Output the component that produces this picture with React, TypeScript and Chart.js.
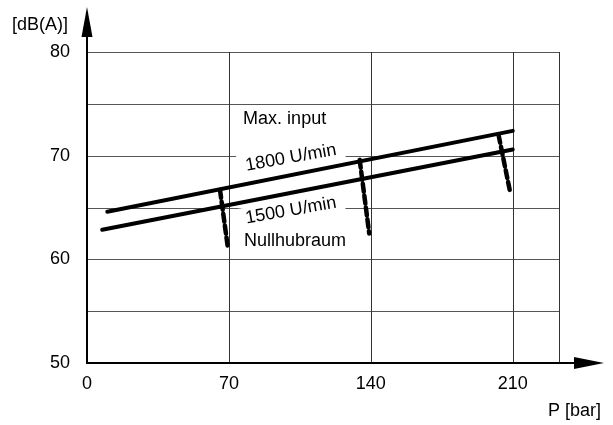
import React, { useEffect, useRef } from 'react';
import { Chart, registerables } from 'chart.js';

Chart.register(...registerables);

const FONT = '"Liberation Sans", Arial, sans-serif';
const FS = 18;

// Axis ticks and grid
const xTicks = [0, 70, 140, 210];
const yTicks = [50, 60, 70, 80];
const xGridLines = [70, 140, 210, 233];
const yGridLines = [55, 60, 65, 70, 75, 80];

// Main curves
const line1800X = [10, 210];
const line1800Y = [64.6, 72.4];
const line1500X = [7.5, 210];
const line1500Y = [62.85, 70.6];

// Dashed drops (to Nullhubraum)
const drop70X = [65.6, 69.5];
const drop70Y = [66.7, 61.1];
const drop140X = [134.5, 139.2];
const drop140Y = [69.6, 62.5];
const drop210X = [203, 208.8];
const drop210Y = [72.0, 66.4];

// Annotations
const noteTexts = ['Max. input', '1800 U/min', '1500 U/min', 'Nullhubraum'];
const noteX = [77, 100.6, 100.6, 77.4];
const noteY = [73.09, 69.8, 64.7, 61.31];

const yAxisTitle = '[dB(A)]';
const xAxisTitle = 'P [bar]';

const pts = (xs: number[], ys: number[]) => xs.map((x, i) => ({ x, y: ys[i] }));

export default function App() {
  const ref = useRef<HTMLCanvasElement | null>(null);

  useEffect(() => {
    if (!ref.current) return;
    const solid = (xs: number[], ys: number[]) => ({
      data: pts(xs, ys),
      showLine: true,
      borderColor: '#000',
      borderWidth: 4,
      pointRadius: 0,
      borderCapStyle: 'round' as const,
    });
    const dashed = (xs: number[], ys: number[]) => ({
      data: pts(xs, ys),
      showLine: true,
      borderColor: '#000',
      borderWidth: 4.5,
      pointRadius: 0,
      borderDash: [8, 4],
      borderCapStyle: 'round' as const,
    });

    const plugin = {
      id: 'decor',
      beforeDatasetsDraw(chart: any) {
        const ctx = chart.ctx;
        const xs = chart.scales.x;
        const ys = chart.scales.y;
        ctx.save();
        ctx.lineWidth = 1;
        ctx.strokeStyle = '#555';
        const xRight = xs.getPixelForValue(233);
        const yTop = ys.getPixelForValue(80);
        const yBot = ys.getPixelForValue(50);
        const xLeft = xs.getPixelForValue(0);
        yGridLines.forEach((v) => {
          const y = Math.round(ys.getPixelForValue(v)) + 0.5;
          ctx.beginPath();
          ctx.moveTo(xLeft, y);
          ctx.lineTo(xRight, y);
          ctx.stroke();
        });
        ctx.strokeStyle = '#333';
        xGridLines.forEach((v) => {
          const x = Math.round(xs.getPixelForValue(v)) + 0.5;
          ctx.beginPath();
          ctx.moveTo(x, yTop);
          ctx.lineTo(x, yBot);
          ctx.stroke();
        });
        ctx.font = FS + 'px ' + FONT;
        ctx.fillStyle = '#000';
        noteTexts.forEach((t, i) => {
          const px = xs.getPixelForValue(noteX[i]);
          const py = ys.getPixelForValue(noteY[i]);
          if (i === 1 || i === 2) {
            ctx.save();
            ctx.translate(px, py);
            ctx.rotate((-10 * Math.PI) / 180);
            const w = ctx.measureText(t).width;
            ctx.fillStyle = '#fff';
            ctx.fillRect(-w / 2 - 8, -11, w + 16, 22);
            ctx.fillStyle = '#000';
            ctx.textAlign = 'center';
            ctx.textBaseline = 'middle';
            ctx.fillText(t, 0, 0);
            ctx.restore();
          } else {
            ctx.textAlign = 'left';
            ctx.textBaseline = 'alphabetic';
            ctx.fillText(t, px, py);
          }
        });
        ctx.restore();
      },
      afterDraw(chart: any) {
        const ctx = chart.ctx;
        const xs = chart.scales.x;
        const ys = chart.scales.y;
        const x0 = xs.getPixelForValue(0);
        const y0 = ys.getPixelForValue(50);
        const yTip = chart.chartArea.top;
        const xTip = chart.chartArea.right;
        ctx.save();
        ctx.strokeStyle = '#000';
        ctx.fillStyle = '#000';
        ctx.lineWidth = 2;
        ctx.beginPath();
        ctx.moveTo(x0, y0);
        ctx.lineTo(x0, yTip + 25);
        ctx.moveTo(x0 - 1, y0);
        ctx.lineTo(xTip - 25, y0);
        ctx.stroke();
        ctx.beginPath();
        ctx.moveTo(x0, yTip);
        ctx.lineTo(x0 - 5.5, yTip + 30);
        ctx.lineTo(x0 + 5.5, yTip + 30);
        ctx.closePath();
        ctx.fill();
        ctx.beginPath();
        ctx.moveTo(xTip, y0);
        ctx.lineTo(xTip - 30, y0 - 6);
        ctx.lineTo(xTip - 30, y0 + 6);
        ctx.closePath();
        ctx.fill();
        ctx.font = FS + 'px ' + FONT;
        ctx.textBaseline = 'middle';
        ctx.textAlign = 'left';
        ctx.fillText(yAxisTitle, 12, 25);
        ctx.textAlign = 'right';
        ctx.fillText(xAxisTitle, 601, 411);
        ctx.restore();
      },
    };

    const chart = new Chart(ref.current, {
      type: 'scatter',
      data: {
        datasets: [
          solid(line1800X, line1800Y),
          solid(line1500X, line1500Y),
          dashed(drop70X, drop70Y),
          dashed(drop140X, drop140Y),
          dashed(drop210X, drop210Y),
        ],
      },
      options: {
        animation: false,
        responsive: false,
        devicePixelRatio: 1,
        layout: { padding: { top: 7, right: 9, left: 0, bottom: 0 } },
        plugins: { legend: { display: false }, tooltip: { enabled: false } },
        scales: {
          x: {
            type: 'linear',
            min: 0,
            max: 255,
            grid: { display: false, drawTicks: false },
            border: { display: false },
            afterBuildTicks: (s: any) => {
              s.ticks = xTicks.map((v) => ({ value: v }));
            },
            afterFit: (s: any) => {
              s.height = 62;
              s.paddingLeft = 0;
              s.paddingRight = 0;
              s.paddingTop = 0;
              s.paddingBottom = 0;
            },
            ticks: {
              color: '#000',
              font: { size: FS, family: FONT },
              padding: 10,
              maxRotation: 0,
              autoSkip: false,
            },
          },
          y: {
            type: 'linear',
            min: 50,
            max: 84.35,
            grid: { display: false, drawTicks: false },
            border: { display: false },
            afterBuildTicks: (s: any) => {
              s.ticks = yTicks.map((v) => ({ value: v }));
            },
            afterFit: (s: any) => {
              s.width = 87;
              s.paddingLeft = 0;
              s.paddingRight = 0;
              s.paddingTop = 0;
              s.paddingBottom = 0;
            },
            ticks: {
              color: '#000',
              font: { size: FS, family: FONT },
              padding: 17,
              autoSkip: false,
            },
          },
        },
      } as any,
      plugins: [plugin],
    });
    return () => chart.destroy();
  }, []);

  return (
    <div style={{ position: 'fixed', left: 0, top: 0, width: 613, height: 425, background: '#fff' }}>
      <canvas ref={ref} width={613} height={425} />
    </div>
  );
}
